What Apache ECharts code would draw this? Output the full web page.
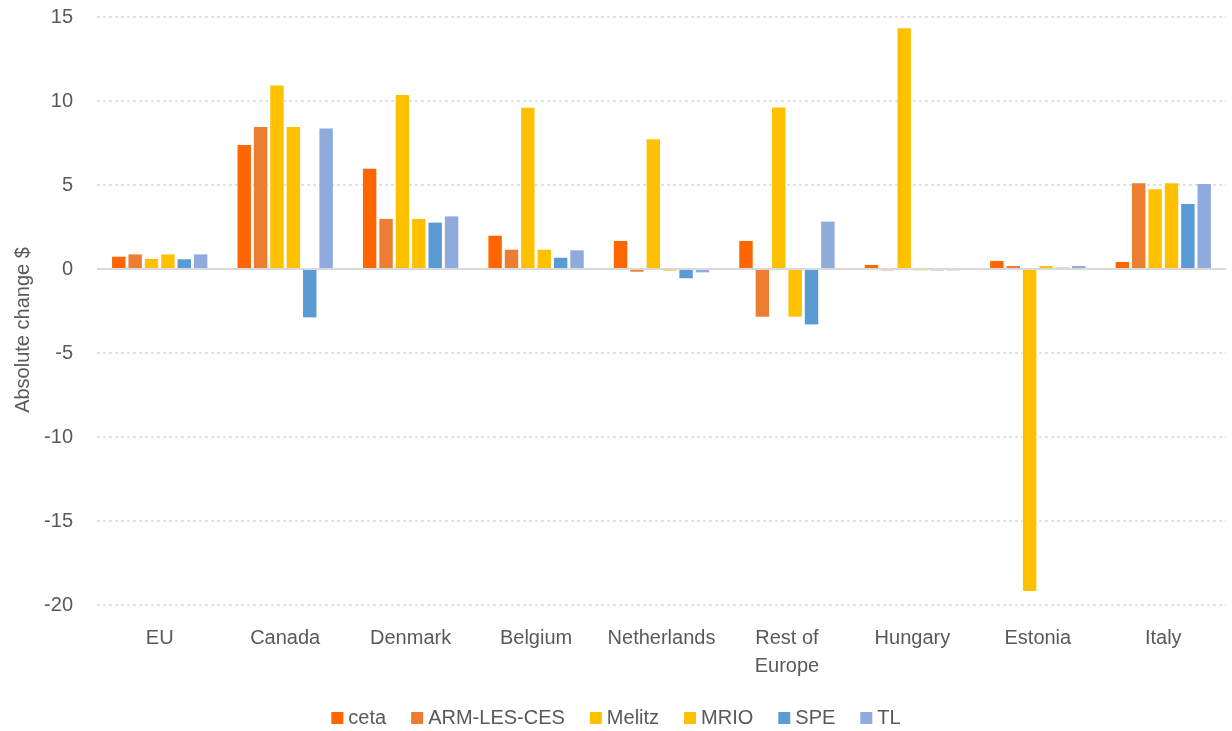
<!DOCTYPE html>
<html>
<head>
<meta charset="utf-8">
<script src="https://cdn.jsdelivr.net/npm/echarts@6/dist/echarts.min.js"></script>
<style>
  html, body { margin: 0; padding: 0; background: #fff; }
  #chart { width: 1232px; height: 731px; }
</style>
</head>
<body>
<div id="chart"></div>
<script>
// Regions on the horizontal axis
const categories = ['EU', 'Canada', 'Denmark', 'Belgium', 'Netherlands', 'Rest of\nEurope', 'Hungary', 'Estonia', 'Italy'];

// Absolute change ($) by model
const ceta      = [0.73, 7.38, 5.97, 1.98, 1.67, 1.67, 0.24, 0.48, 0.42];
const armLesCes = [0.87, 8.45, 2.98, 1.15, -0.16, -2.84, -0.08, 0.18, 5.10];
const melitz    = [0.60, 10.93, 10.36, 9.60, 7.72, 9.62, 14.33, -19.17, 4.74];
const mrio      = [0.87, 8.45, 2.98, 1.15, -0.10, -2.84, -0.08, 0.18, 5.10];
const spe       = [0.58, -2.88, 2.76, 0.67, -0.55, -3.30, -0.08, 0.08, 3.87];
const tl        = [0.87, 8.37, 3.13, 1.11, -0.20, 2.82, -0.08, 0.18, 5.06];

// Value axis ticks
const yMin = -20, yMax = 15, yStep = 5;

const seriesDefs = [
  { name: 'ceta',        data: ceta,      color: '#FF6600' },
  { name: 'ARM-LES-CES', data: armLesCes, color: '#ED7D31' },
  { name: 'Melitz',      data: melitz,    color: '#FFC000' },
  { name: 'MRIO',        data: mrio,      color: '#FFC000' },
  { name: 'SPE',         data: spe,       color: '#5B9BD5' },
  { name: 'TL',          data: tl,        color: '#8FAADC' }
];

const FONT = 'Liberation Sans';
const TEXT = '#595959';

const series = seriesDefs.map((s, i) => {
  const out = {
    name: s.name,
    type: 'bar',
    data: s.data,
    barGap: '22%',
    barCategoryGap: '24%',
    itemStyle: { color: s.color },
    emphasis: { disabled: true }
  };
  if (i === 0) {
    // Zero baseline across the plot
    out.markLine = {
      silent: true,
      symbol: 'none',
      label: { show: false },
      lineStyle: { color: '#D9D9D9', width: 2, type: 'solid' },
      data: [{ yAxis: 0 }]
    };
  }
  return out;
});

const chart = echarts.init(document.getElementById('chart'), null, { renderer: 'canvas' });
chart.setOption({
  animation: false,
  backgroundColor: '#ffffff',
  textStyle: { fontFamily: FONT },
  grid: { left: 97, right: 6, top: 17, bottom: 126, containLabel: false },
  legend: {
    bottom: -2,
    left: 'center',
    itemWidth: 12,
    itemHeight: 12,
    itemGap: 25,
    icon: 'rect',
    textStyle: { color: TEXT, fontSize: 20, fontFamily: FONT },
    data: seriesDefs.map(s => s.name)
  },
  xAxis: {
    type: 'category',
    data: categories,
    axisLine: { show: false, onZero: false },
    axisTick: { show: false },
    axisLabel: { color: TEXT, fontSize: 20, fontFamily: FONT, margin: 19, lineHeight: 28, interval: 0 },
    splitLine: { show: false }
  },
  yAxis: {
    type: 'value',
    min: yMin,
    max: yMax,
    interval: yStep,
    name: 'Absolute change $',
    nameLocation: 'middle',
    nameGap: 64,
    nameRotate: 90,
    nameTextStyle: { color: TEXT, fontSize: 20, fontFamily: FONT, padding: [0, 38, 0, 0] },
    axisLine: { show: false },
    axisTick: { show: false },
    axisLabel: { color: TEXT, fontSize: 20, fontFamily: FONT, margin: 24 },
    splitLine: { lineStyle: { color: '#D9D9D9', type: [3, 3], width: 1.5 } }
  },
  series: series
});
</script>
</body>
</html>
